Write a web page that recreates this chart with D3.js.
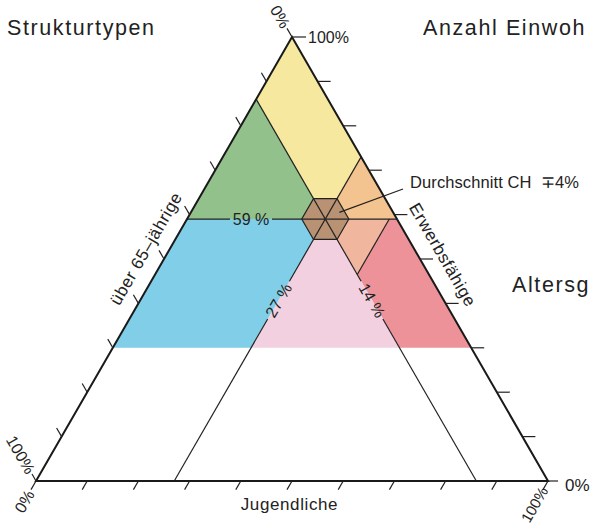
<!DOCTYPE html>
<html>
<head>
<meta charset="utf-8">
<script src="https://cdn.jsdelivr.net/npm/d3@7"></script>
<style>
  body { margin: 0; background: #fff; }
  svg text { font-family: "Liberation Sans", Arial, sans-serif; fill: #222; }
</style>
</head>
<body>
<div id="chart"></div>
<script>
// ternary values in %: [Erwerbsfähige, Jugendliche]; über 65 = 100 - both
const axisNames = ["Erwerbsfähige", "Jugendliche", "über 65–jährige"];
const headings = ["Strukturtypen", "Anzahl Einwoh", "Altersg"];
const average = [59, 27, 14];              // E, J, A
const averageLabels = ["59 %", "27 %", "14 %"];
const calloutText = "Durchschnitt CH\u00a0\u00a0\u22134%";
const hexDeviation = 4.6;
const colorFloor = 30;                     // coloured zone ends at E = 30 %
const splitJ = 39.5;                       // extra boundary orange / red
const tickValues = [10, 20, 30, 40, 50, 60, 70, 80, 90];
const endLabels = ["0%", "100%"];
const regionNames = ["yellow", "green", "orangeUp", "orangeLow", "red", "pink", "blue"];
const regionColors = ["#f7e89f", "#92c18c", "#f4c490", "#f1b69e", "#ec9298", "#f3d0e0", "#80cee7"];
const hexColor = "#b89273";

const w = 590, h = 528;
const [e0, j0, a0] = average;

const xScale = d3.scaleLinear().domain([0, 100]).range([36, 548]);
const yScale = d3.scaleLinear().domain([0, 100]).range([481, 37]);
const pt = (e, j) => [xScale(j + e / 2), yScale(e)];

const svg = d3.select("#chart").append("svg")
    .attr("width", w)
    .attr("height", h);

const line = d3.line();

// regions
const regionPolys = {
    yellow: [[100, 0], [100 - j0, j0], [e0, j0], [100 - a0, 0]],
    green: [[100 - a0, 0], [e0, j0], [e0, 0]],
    orangeUp: [[100 - j0, j0], [e0, 100 - e0], [e0, j0]],
    orangeLow: [[e0, j0], [e0, splitJ], [100 - splitJ - a0, splitJ]],
    red: [[e0, splitJ], [e0, 100 - e0], [colorFloor, 100 - colorFloor],
          [colorFloor, 100 - colorFloor - a0], [100 - splitJ - a0, splitJ]],
    pink: [[e0, j0], [colorFloor, 100 - colorFloor - a0], [colorFloor, j0]],
    blue: [[e0, 0], [e0, j0], [colorFloor, j0], [colorFloor, 0]]
};

svg.append("g")
    .selectAll("path")
    .data(regionNames)
    .enter()
    .append("path")
    .attr("d", d => line(regionPolys[d].map(p => pt(p[0], p[1]))) + "Z")
    .attr("fill", (d, i) => regionColors[i]);

// hexagon around the average
const d = hexDeviation;
const hexPts = [[e0, j0 + d], [e0 + d, j0], [e0 + d, j0 - d], [e0, j0 - d], [e0 - d, j0], [e0 - d, j0 + d]];
svg.append("path")
    .attr("d", line(hexPts.map(p => pt(p[0], p[1]))) + "Z")
    .attr("fill", hexColor)
    .attr("stroke", "#222")
    .attr("stroke-width", 1.2);

// average lines (with gaps for the labels)
const inner = svg.append("g")
    .attr("stroke", "#222")
    .attr("stroke-width", 1.2)
    .attr("fill", "none");

const segs = [
    [[e0, 0], [e0, 8.4]],
    [[e0, 16.6], [e0, 100 - e0]],
    [[100 - j0, j0], [45, j0]],
    [[36.5, j0], [0, j0]],
    [[100 - a0, 0], [45, 100 - a0 - 45]],
    [[36.5, 100 - a0 - 36.5], [0, 100 - a0]],
    [[e0, splitJ], [100 - splitJ - a0, splitJ]]
];
inner.selectAll("path")
    .data(segs)
    .enter()
    .append("path")
    .attr("d", s => line(s.map(p => pt(p[0], p[1]))));

// labels on the average lines
const avgLabelPos = [
    { p: pt(e0, 12.5), rot: 0 },
    { p: pt(40.7, j0), rot: -60 },
    { p: pt(40.7, 100 - a0 - 40.7), rot: 60 }
];
svg.append("g")
    .selectAll("text")
    .data(averageLabels)
    .enter()
    .append("text")
    .attr("transform", (t, i) => `translate(${avgLabelPos[i].p}) rotate(${avgLabelPos[i].rot})`)
    .attr("text-anchor", "middle")
    .attr("dy", "0.36em")
    .attr("font-size", 16)
    .text(t => t);

// triangle outline
svg.append("path")
    .attr("d", line([pt(100, 0), pt(0, 100), pt(0, 0)]) + "Z")
    .attr("fill", "none")
    .attr("stroke", "#1a1a1a")
    .attr("stroke-width", 2);

// ticks
const ticks = svg.append("g").attr("stroke", "#222").attr("stroke-width", 1.2);
const c60 = Math.cos(Math.PI / 3), s60 = Math.sin(Math.PI / 3);
const tickDefs = [];
tickValues.forEach(v => {
    tickDefs.push({ p: pt(v, 100 - v), dx: 13, dy: 0 });                 // right side (E)
    tickDefs.push({ p: pt(100 - v, 0), dx: -10 * c60, dy: -10 * s60 });   // left side (A)
    tickDefs.push({ p: pt(0, v), dx: -10 * c60, dy: 10 * s60 });          // bottom (J)
});
// corner ticks
tickDefs.push({ p: pt(100, 0), dx: 14, dy: 0 });
tickDefs.push({ p: pt(100, 0), dx: -10 * c60, dy: -10 * s60 });
tickDefs.push({ p: pt(0, 0), dx: -8 * c60, dy: -8 * s60 });
tickDefs.push({ p: pt(0, 0), dx: -10 * c60, dy: 10 * s60 });
tickDefs.push({ p: pt(0, 100), dx: -10 * c60, dy: 10 * s60 });
tickDefs.push({ p: pt(0, 100), dx: 10, dy: 0 });

ticks.selectAll("line")
    .data(tickDefs)
    .enter()
    .append("line")
    .attr("x1", t => t.p[0])
    .attr("y1", t => t.p[1])
    .attr("x2", t => t.p[0] + t.dx)
    .attr("y2", t => t.p[1] + t.dy);

// corner labels
const apex = pt(100, 0), left = pt(0, 0), right = pt(0, 100);
const cornerLabels = [
    { t: endLabels[1], x: apex[0] + 16, y: apex[1], rot: 0, anchor: "start", fs: 16 },
    { t: endLabels[0], x: apex[0] - 12 * c60, y: apex[1] - 12 * s60, rot: 60, anchor: "end", fs: 16 },
    { t: endLabels[1], x: left[0] - 10 * c60, y: left[1] - 10 * s60, rot: 60, anchor: "end", fs: 16 },
    { t: endLabels[0], x: left[0] - 12 * c60, y: left[1] + 12 * s60, rot: -60, anchor: "end", fs: 16 },
    { t: endLabels[1], x: right[0] - 8 * c60, y: right[1] + 8 * s60, rot: -60, anchor: "end", fs: 15 },
    { t: endLabels[0], x: right[0] + 17, y: right[1] + 4, rot: 0, anchor: "start", fs: 17 }
];
svg.append("g")
    .selectAll("text")
    .data(cornerLabels)
    .enter()
    .append("text")
    .attr("transform", c => `translate(${c.x},${c.y}) rotate(${c.rot})`)
    .attr("text-anchor", c => c.anchor)
    .attr("dy", "0.36em")
    .attr("font-size", c => c.fs)
    .text(c => c.t);

// axis names
const midRight = pt(48.5, 51.5), midLeft = pt(50, 0);
svg.append("text")
    .attr("transform", `translate(${midRight[0] + 16 * s60},${midRight[1] - 16 * c60}) rotate(60)`)
    .attr("text-anchor", "middle")
    .attr("font-size", 17)
    .attr("letter-spacing", 0.6)
    .text(axisNames[0]);
svg.append("text")
    .attr("x", xScale(49.5))
    .attr("y", 510)
    .attr("text-anchor", "middle")
    .attr("font-size", 17)
    .attr("letter-spacing", 0.6)
    .text(axisNames[1]);
svg.append("text")
    .attr("transform", `translate(${midLeft[0] - 15 * s60},${midLeft[1] - 15 * c60}) rotate(-60)`)
    .attr("text-anchor", "middle")
    .attr("font-size", 17)
    .attr("letter-spacing", 0.6)
    .text(axisNames[2]);

// callout
const calloutStart = pt(60.5, 29);
svg.append("line")
    .attr("x1", calloutStart[0])
    .attr("y1", calloutStart[1])
    .attr("x2", 403)
    .attr("y2", 189)
    .attr("stroke", "#222")
    .attr("stroke-width", 1.2);
svg.append("text")
    .attr("x", 410)
    .attr("y", 188)
    .attr("font-size", 16.5)
    .attr("letter-spacing", 0.1)
    .text(calloutText);

// headings
const headPos = [[7, 35], [423, 35], [512, 292]];
svg.append("g")
    .selectAll("text")
    .data(headings)
    .enter()
    .append("text")
    .attr("x", (t, i) => headPos[i][0])
    .attr("y", (t, i) => headPos[i][1])
    .attr("font-size", 21.5)
    .attr("letter-spacing", 1.6)
    .text(t => t);
</script>
</body>
</html>
